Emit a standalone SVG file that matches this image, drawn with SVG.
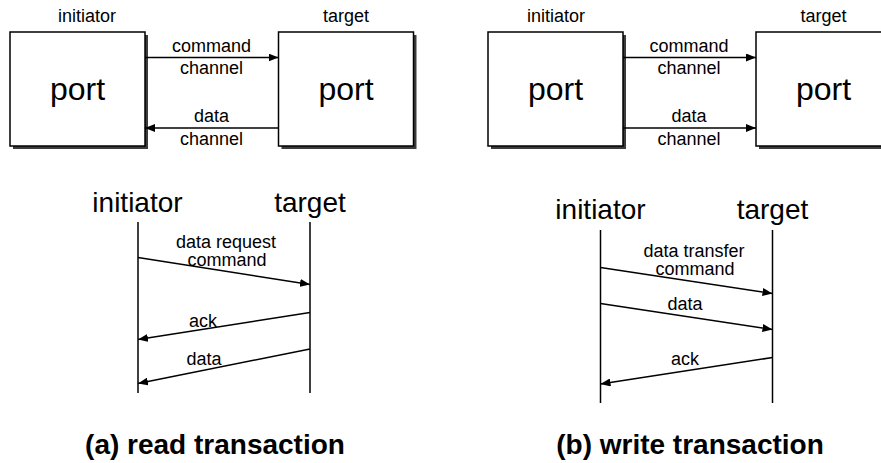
<svg xmlns="http://www.w3.org/2000/svg" width="881" height="463" viewBox="0 0 881 463">
  <style>
    text { font-family: "Liberation Sans", Arial, sans-serif; fill: #000; text-anchor: middle; }
    .lbl { font-size: 18px; }
    .big { font-size: 28px; }
    .port { font-size: 32px; }
    .title { font-size: 28px; font-weight: bold; }
    .box { fill: #fff; stroke: #000; stroke-width: 1.5; }
    .shadow { fill: #3c3c3c; }
    .wire { fill: none; stroke: #000; stroke-width: 1.5; }
    .life { fill: none; stroke: #000; stroke-width: 1.5; }
  </style>
  <defs>
    <marker id="arrow" viewBox="0 0 10 8" refX="10" refY="4" markerWidth="10" markerHeight="8" markerUnits="userSpaceOnUse" orient="auto">
      <path d="M0,0 L10,4 L0,8 Z" fill="#000"/>
    </marker>
  </defs>

  <!-- (a) read transaction: ports -->
  <g id="a-initiator-port">
    <rect class="shadow" x="13" y="35" width="135" height="114"/>
    <rect class="box" x="10" y="32" width="135" height="114"/>
    <text class="lbl" x="87" y="22">initiator</text>
    <text class="port" x="77.5" y="100">port</text>
  </g>
  <g id="a-target-port">
    <rect class="shadow" x="281.5" y="35" width="135" height="114"/>
    <rect class="box" x="278.5" y="32" width="135" height="114"/>
    <text class="lbl" x="346" y="22">target</text>
    <text class="port" x="346" y="100">port</text>
  </g>

  <!-- (b) write transaction: ports -->
  <g id="b-initiator-port">
    <rect class="shadow" x="491" y="35" width="135" height="114"/>
    <rect class="box" x="488" y="32" width="135" height="114"/>
    <text class="lbl" x="556" y="22">initiator</text>
    <text class="port" x="555.5" y="100">port</text>
  </g>
  <g id="b-target-port">
    <rect class="shadow" x="759" y="35" width="135" height="114"/>
    <rect class="box" x="756" y="32" width="135" height="114"/>
    <text class="lbl" x="823.5" y="22">target</text>
    <text class="port" x="823.5" y="100">port</text>
  </g>

  <!-- lifelines -->
  <g id="a-initiator-life">
    <text class="big" x="137.5" y="211.5">initiator</text>
    <line class="life" x1="138" y1="222" x2="138" y2="393"/>
  </g>
  <g id="a-target-life">
    <text class="big" x="310" y="211.5">target</text>
    <line class="life" x1="310" y1="222" x2="310" y2="393"/>
  </g>
  <g id="b-initiator-life">
    <text class="big" x="600.5" y="219">initiator</text>
    <line class="life" x1="600.5" y1="230" x2="600.5" y2="403"/>
  </g>
  <g id="b-target-life">
    <text class="big" x="772.5" y="219">target</text>
    <line class="life" x1="772.5" y1="230" x2="772.5" y2="403"/>
  </g>

  <!-- connectors -->
  <g id="connectors">
    <!-- (a) channels -->
    <line class="wire" x1="145" y1="57.5" x2="278.5" y2="57.5" marker-end="url(#arrow)"/>
    <text class="lbl" x="211.5" y="51.5">command</text>
    <text class="lbl" x="211.5" y="74">channel</text>
    <line class="wire" x1="278.5" y1="128" x2="145" y2="128" marker-end="url(#arrow)"/>
    <text class="lbl" x="211.5" y="122">data</text>
    <text class="lbl" x="211.5" y="145">channel</text>

    <!-- (b) channels -->
    <line class="wire" x1="623" y1="57.5" x2="756" y2="57.5" marker-end="url(#arrow)"/>
    <text class="lbl" x="689" y="51.5">command</text>
    <text class="lbl" x="689" y="74">channel</text>
    <line class="wire" x1="623" y1="128" x2="756" y2="128" marker-end="url(#arrow)"/>
    <text class="lbl" x="689" y="122">data</text>
    <text class="lbl" x="689" y="145">channel</text>

    <!-- (a) messages -->
    <line class="wire" x1="138" y1="257.5" x2="310" y2="284.5" marker-end="url(#arrow)"/>
    <text class="lbl" x="226" y="248">data request</text>
    <text class="lbl" x="227" y="266">command</text>
    <line class="wire" x1="310" y1="312.5" x2="138" y2="339.5" marker-end="url(#arrow)"/>
    <text class="lbl" x="203" y="327">ack</text>
    <line class="wire" x1="310" y1="349" x2="138" y2="383.5" marker-end="url(#arrow)"/>
    <text class="lbl" x="204" y="365">data</text>

    <!-- (b) messages -->
    <line class="wire" x1="600.5" y1="267.5" x2="772.5" y2="293.5" marker-end="url(#arrow)"/>
    <text class="lbl" x="694" y="256.5">data transfer</text>
    <text class="lbl" x="695" y="275">command</text>
    <line class="wire" x1="600.5" y1="303.5" x2="772.5" y2="329.5" marker-end="url(#arrow)"/>
    <text class="lbl" x="685" y="310">data</text>
    <line class="wire" x1="772.5" y1="357.5" x2="600.5" y2="384" marker-end="url(#arrow)"/>
    <text class="lbl" x="685" y="365">ack</text>
  </g>

  <!-- captions -->
  <text class="title" x="215" y="454">(a) read transaction</text>
  <text class="title" x="690" y="454">(b) write transaction</text>
</svg>
